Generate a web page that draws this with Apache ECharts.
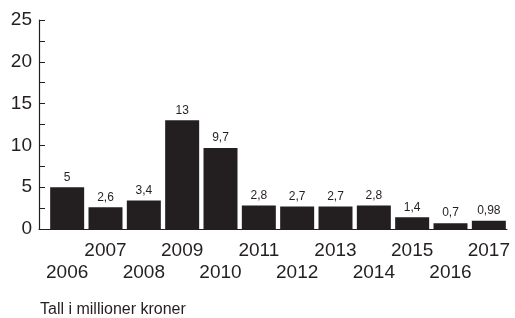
<!DOCTYPE html>
<html>
<head>
<meta charset="utf-8">
<script src="https://cdn.jsdelivr.net/npm/echarts@6/dist/echarts.min.js"></script>
<style>
  html, body { margin: 0; padding: 0; background: #fff; }
  #chart { width: 515px; height: 318px; }
</style>
</head>
<body>
<div id="chart"></div>
<script>
  const years = ['2006', '2007', '2008', '2009', '2010', '2011', '2012', '2013', '2014', '2015', '2016', '2017']
  const values = [5, 2.6, 3.4, 13, 9.7, 2.8, 2.7, 2.7, 2.8, 1.4, 0.7, 0.98]
  const yTicks = [0, 5, 10, 15, 20, 25]
  const note = 'Tall i millioner kroner'

  const ink = '#231f20'
  const font = 'Liberation Sans, Arial, sans-serif'

  const chart = echarts.init(document.getElementById('chart'))
  chart.setOption({
    animation: false,
    title: {
      text: note,
      left: 40,
      top: 302,
      padding: 0,
      textStyle: { fontFamily: font, fontSize: 16, fontWeight: 'normal', color: ink }
    },
    grid: [
      // axis frame (starts a bit left of the first bar)
      { left: 39, right: 8, top: 20, bottom: 89 },
      // bars
      { left: 48, right: 7, top: 20, bottom: 89 }
    ],
    xAxis: [{
      gridIndex: 0,
      type: 'value',
      min: 0,
      max: 1,
      axisLine: { show: true, lineStyle: { color: ink, width: 1.2 } },
      axisTick: { show: false },
      axisLabel: { show: false },
      splitLine: { show: false }
    }, {
      gridIndex: 1,
      type: 'category',
      data: years,
      axisLine: { show: false },
      axisTick: { show: false },
      splitLine: { show: false },
      axisLabel: {
        interval: 0,
        margin: 11,
        fontFamily: font,
        fontSize: 19,
        lineHeight: 22,
        color: ink,
        formatter: function(v, i) {
          return i % 2 === 0 ? '\n' + v : v
        }
      }
    }],
    yAxis: [{
      gridIndex: 0,
      type: 'value',
      min: yTicks[0],
      max: yTicks[yTicks.length - 1],
      interval: 5,
      axisLine: { show: true, lineStyle: { color: ink, width: 1.2 } },
      axisTick: { show: true, inside: true, length: 6, lineStyle: { color: ink } },
      minorTick: { show: true, splitNumber: 2, length: 6, lineStyle: { color: ink } },
      splitLine: { show: false },
      axisLabel: { margin: 7, fontFamily: font, fontSize: 19, color: ink }
    }, {
      gridIndex: 1,
      type: 'value',
      min: yTicks[0],
      max: yTicks[yTicks.length - 1],
      show: false
    }],
    series: [{
      type: 'bar',
      xAxisIndex: 1,
      yAxisIndex: 1,
      data: values,
      barWidth: 34,
      itemStyle: { color: ink },
      label: {
        show: true,
        position: 'top',
        distance: 4,
        fontFamily: font,
        fontSize: 12,
        color: ink,
        formatter: function(p) {
          return String(p.value).replace('.', ',')
        }
      }
    }]
  })
</script>
</body>
</html>
